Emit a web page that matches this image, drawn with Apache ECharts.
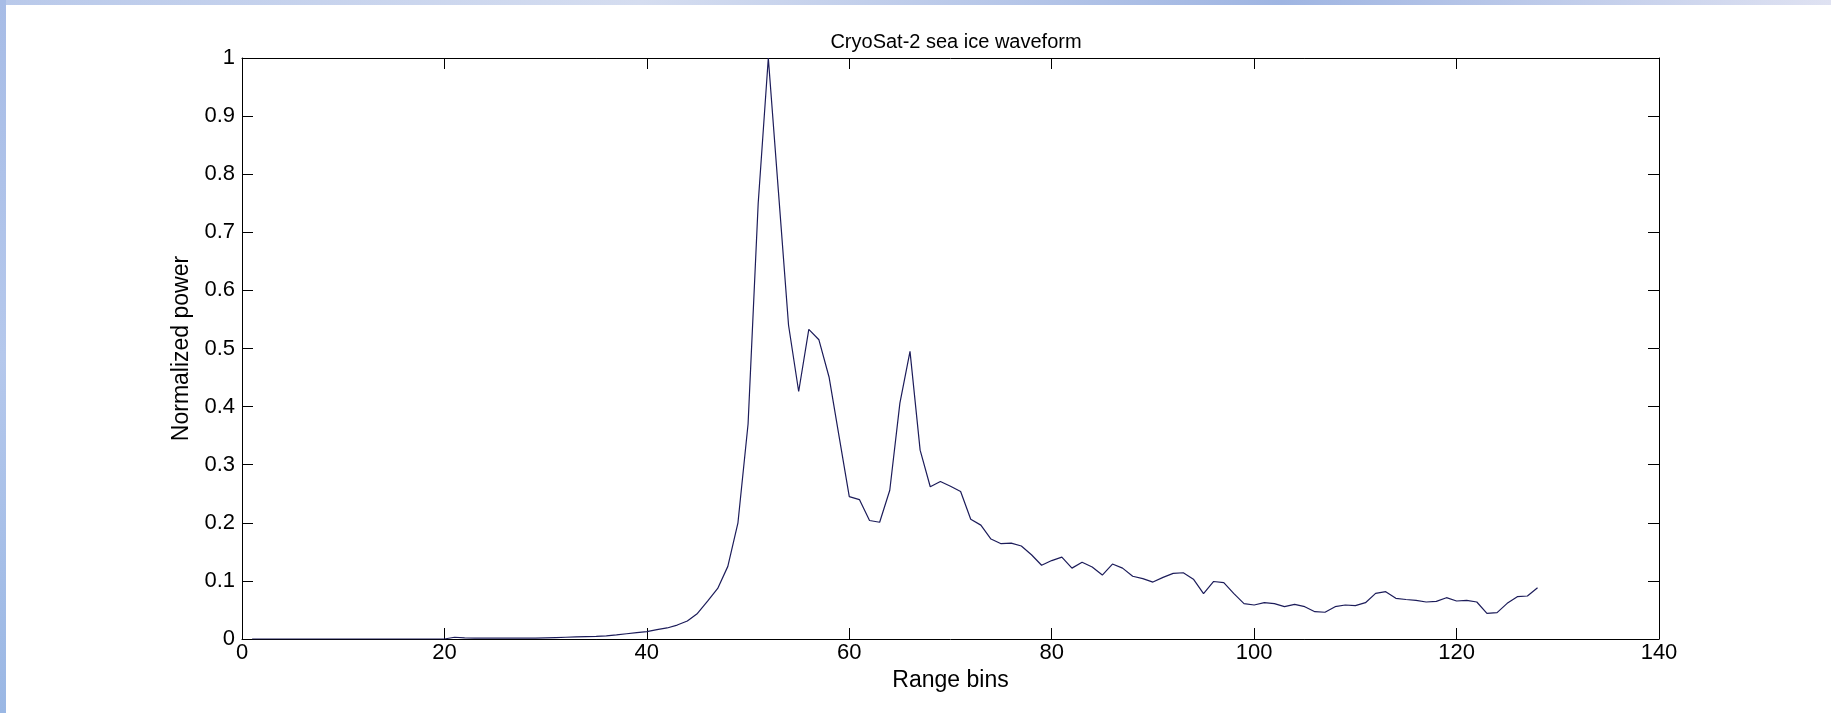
<!DOCTYPE html>
<html>
<head>
<meta charset="utf-8">
<script src="https://cdn.jsdelivr.net/npm/echarts@6/dist/echarts.min.js"></script>
<style>
html,body{margin:0;padding:0;background:#fff;}
#chart{width:1831px;height:713px;}
</style>
</head>
<body>
<div id="chart"></div>
<script>
// Range bins 1..128
const rangeBins = Array.from({length:128},(_,i)=>i+1);
// Normalized power
const power = [
  0,0,0,0,0,0,0,0,0,0,
  0,0,0,0,0,0,0,0,0,0,
  0.003,0.002,0.0015,0.0015,0.0015,0.0015,0.0015,0.0015,0.0015,0.002,
  0.0025,0.003,0.0035,0.004,0.0045,0.0055,0.007,0.009,0.011,0.0126,
  0.016,0.019,0.024,0.031,0.044,0.065,0.087,0.125,0.2,0.37,
  0.75,1.0,0.77,0.54,0.426,0.533,0.515,0.451,0.348,0.245,
  0.24,0.204,0.201,0.256,0.406,0.495,0.325,0.262,0.271,0.263,
  0.254,0.206,0.196,0.172,0.164,0.165,0.160,0.145,0.127,0.135,
  0.141,0.122,0.132,0.124,0.110,0.129,0.122,0.108,0.104,0.098,
  0.106,0.113,0.114,0.103,0.078,0.099,0.097,0.078,0.061,0.0585,
  0.0625,0.061,0.0556,0.0597,0.0556,0.047,0.046,0.0556,0.0585,0.0574,
  0.0625,0.0786,0.0815,0.070,0.068,0.0666,0.0637,0.0648,0.0711,0.0654,
  0.0666,0.0637,0.044,0.0453,0.0614,0.0728,0.074,0.0883
];
const xTicks = [0,20,40,60,80,100,120,140];
const yTicks = [0,0.1,0.2,0.3,0.4,0.5,0.6,0.7,0.8,0.9,1];

const chart = echarts.init(document.getElementById('chart'));
const FONT = 'Liberation Sans, Arial, sans-serif';
const axisCommon = {
  axisLine:{show:true,onZero:false,lineStyle:{color:'#000',width:1}},
  axisTick:{show:true,inside:true,length:11,lineStyle:{color:'#000',width:1}},
  splitLine:{show:false}
};
chart.setOption({
  backgroundColor:'#ffffff',
  animation:false,
  graphic:[
    {type:'rect',left:0,top:0,shape:{width:1831,height:5},z:-1,
     style:{fill:new echarts.graphic.LinearGradient(0,0,1,0,[
       {offset:0,color:'#b9c9ea'},{offset:0.35,color:'#d5ddf0'},{offset:0.7,color:'#9fb5e2'},{offset:1,color:'#dfe2f2'}])}},
    {type:'rect',left:0,top:0,shape:{width:6,height:713},z:-1,
     style:{fill:new echarts.graphic.LinearGradient(0,0,0,1,[
       {offset:0,color:'#a7bce6'},{offset:0.5,color:'#b5c8ec'},{offset:1,color:'#9ab7e4'}])}}
  ],
  title:{
    text:'CryoSat-2 sea ice waveform',
    left:951, top:27, textAlign:'center',
    textStyle:{fontFamily:FONT,fontSize:20,fontWeight:'normal',color:'#000'}
  },
  grid:{left:242,right:172,top:58,bottom:74,containLabel:false},
  xAxis:[
    Object.assign({type:'value',position:'bottom',min:0,max:140,interval:20,
      name:'Range bins',nameLocation:'middle',nameGap:25,
      nameTextStyle:{fontFamily:FONT,fontSize:23,color:'#000'},
      axisLabel:{fontFamily:FONT,fontSize:22,color:'#000',margin:3}},axisCommon),
    Object.assign({type:'value',position:'top',min:0,max:140,interval:20,
      axisLabel:{show:false}},axisCommon)
  ],
  yAxis:[
    Object.assign({type:'value',position:'left',min:0,max:1,interval:0.1,
      name:'Normalized power',nameLocation:'middle',nameGap:41,
      nameTextStyle:{fontFamily:FONT,fontSize:23,color:'#000'},
      axisLabel:{fontFamily:FONT,fontSize:22,color:'#000',margin:7,
        formatter:v=>{const r=Math.round(v*10)/10;return yTicks.includes(r)?String(r):'';}}},axisCommon),
    Object.assign({type:'value',position:'right',min:0,max:1,interval:0.1,
      axisLabel:{show:false}},axisCommon)
  ],
  series:[{
    type:'line',
    xAxisIndex:0,yAxisIndex:0,
    data:rangeBins.map((b,i)=>[b,power[i]]),
    showSymbol:false,
    lineStyle:{color:'#1c1c5a',width:1.2},
    z:3
  }]
});
</script>
</body>
</html>
